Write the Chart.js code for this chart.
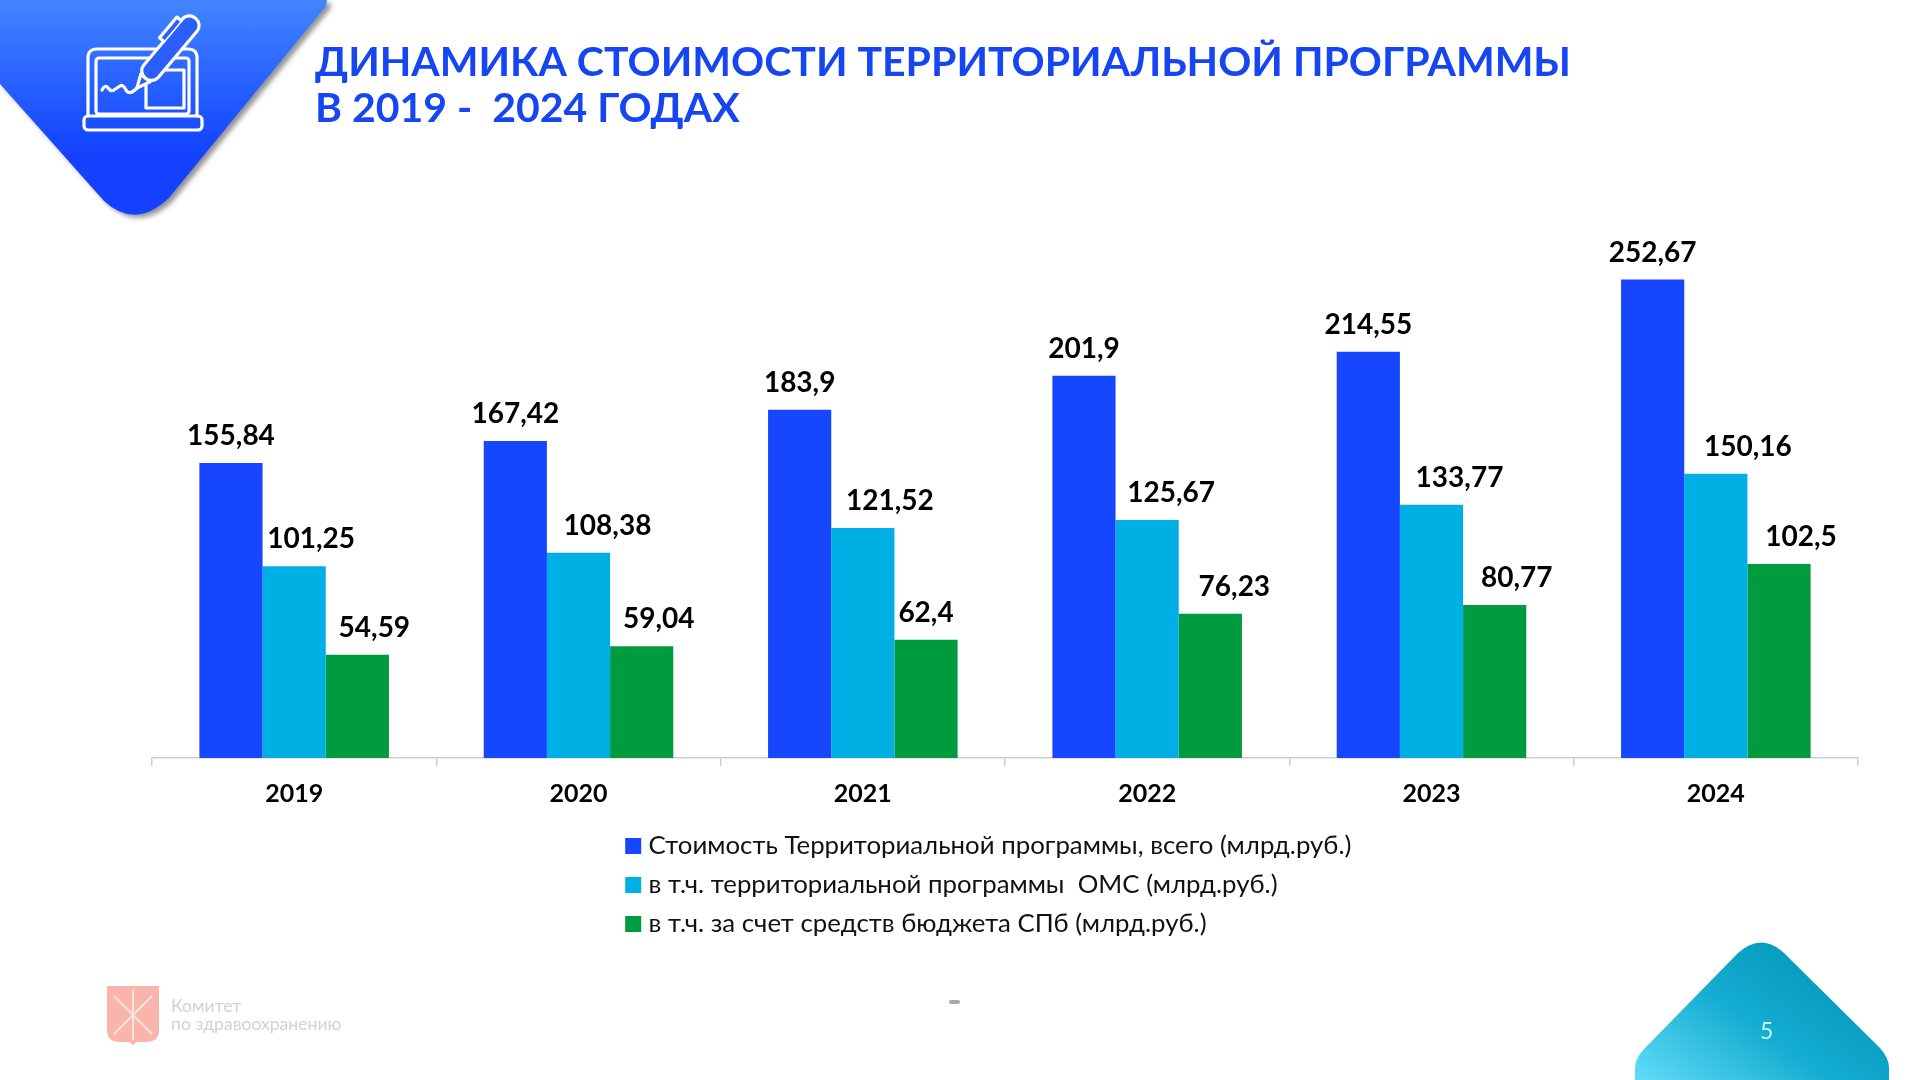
<!DOCTYPE html>
<html lang="ru">
<head>
<meta charset="utf-8">
<title>Динамика стоимости территориальной программы</title>
<script src="https://cdn.jsdelivr.net/npm/chart.js@4/dist/chart.umd.min.js"></script>
<style>
html,body{margin:0;padding:0;background:#fff;width:1920px;height:1080px;overflow:hidden}
#deco{position:absolute;left:0;top:0}
#chart{position:absolute;left:0;top:0}
#title{position:absolute;left:315px;top:38px;font:700 41px/46px Lato,"Open Sans",sans-serif;color:#1546f2;white-space:pre}
.lg{position:absolute;left:171px;font:400 17.6px/18px Lato,"Open Sans",sans-serif;color:#d2d2d2;white-space:pre}
#pg{position:absolute;left:1760px;top:1017px;font:400 23px/26px Lato,"Open Sans",sans-serif;color:#c6f3ff}
</style>
</head>
<body>
<svg id="deco" width="1920" height="1080" viewBox="0 0 1920 1080">
<defs>
<linearGradient id="gB" x1="0" y1="0" x2="0" y2="1"><stop offset="0" stop-color="#4285ff"/><stop offset=".72" stop-color="#1242ff"/><stop offset="1" stop-color="#1540ff"/></linearGradient>
<linearGradient id="gT" x1="0" y1="1" x2="1" y2=".25"><stop offset="0" stop-color="#62dcf8"/><stop offset=".5" stop-color="#14acd0"/><stop offset="1" stop-color="#0094b8"/></linearGradient>
<filter id="sh" x="-10%" y="-10%" width="125%" height="125%"><feDropShadow dx="4" dy="3" stdDeviation="2.5" flood-color="#6e6e6e" flood-opacity=".75"/></filter>
</defs>
<path d="M0,0 L327,0 L326,6 L169,198 Q135,230 104,201 L0,84 Z" fill="url(#gB)" filter="url(#sh)"/>
<g fill="none" stroke="#fff" stroke-width="3.2" stroke-linejoin="round" stroke-linecap="round">
<path d="M88,116 V58 Q88,49 97,49 H188 Q197,49 197,58 V116"/>
<rect x="96" y="58" width="93" height="56" rx="3"/>
<rect x="84" y="116" width="118" height="14" rx="4"/>
<rect x="146" y="70" width="38" height="38"/>
<path d="M102,90 Q105,84 108,88 T114,90 T120,86 T126,90 T137,88"/>
<g transform="translate(137,88) rotate(-50)" fill="#2a5eff">
<path d="M0,0 L13,-6 L13,6 Z"/>
<rect x="13" y="-9.5" width="78" height="19" rx="9"/>
<path d="M53,-9.5 V-15 H80 V-9.5" />
</g>
</g>
<path d="M1635,1080 V1068 Q1635,1058 1645,1048 L1738,953 Q1761,932 1784,953 L1880,1048 Q1889,1058 1889,1068 V1080 Z" fill="url(#gT)"/>
<path d="M107,986 H159 V1030 Q159,1042 146,1042 H137 L133,1045 L129,1042 H120 Q107,1042 107,1030 Z" fill="#f9b4ac"/>
<g stroke="#fde2de" stroke-width="2" fill="none"><path d="M114,996 L152,1034 M152,996 L114,1034 M133,990 V1040"/></g>
<rect x="949" y="1000" width="11" height="4" rx="2" fill="#aaa"/>
</svg>
<canvas id="chart" width="1920" height="1080"></canvas>
<div id="title">ДИНАМИКА СТОИМОСТИ ТЕРРИТОРИАЛЬНОЙ ПРОГРАММЫ
В 2019 -  2024 ГОДАХ</div>
<div class="lg" style="top:997px">Комитет</div>
<div class="lg" style="top:1015px">по здравоохранению</div>
<div id="pg">5</div>
<script>
const categories = ["2019","2020","2021","2022","2023","2024"];
const totalValues = [155.84,167.42,183.9,201.9,214.55,252.67];
const omsValues = [101.25,108.38,121.52,125.67,133.77,150.16];
const budgetValues = [54.59,59.04,62.4,76.23,80.77,102.5];
const seriesNames = [
  "Стоимость Территориальной программы, всего (млрд.руб.)",
  "в т.ч. территориальной программы  ОМС (млрд.руб.)",
  "в т.ч. за счет средств бюджета СПб (млрд.руб.)"
];
const seriesColors = ["#1746ff","#00b0e4","#009a3f"];
const labelShiftX = [[0,0,0,0,0,0],[17,29,27,24,28,32],[17,17,0,24,22,22]];

const valueLabels = {
  id:'valueLabels',
  afterDatasetsDraw(chart){
    const ctx = chart.ctx;
    ctx.save();
    ctx.font = '700 28px Lato, "Open Sans", sans-serif';
    ctx.fillStyle = '#000';
    ctx.textAlign = 'center';
    ctx.textBaseline = 'middle';
    chart.data.datasets.forEach((ds,i)=>{
      chart.getDatasetMeta(i).data.forEach((bar,j)=>{
        ctx.fillText(String(ds.data[j]).replace('.',','), bar.x + labelShiftX[i][j], bar.y - 27);
      });
    });
    ctx.restore();
  }
};
const placeLegend = {
  id:'placeLegend',
  afterLayout(chart){
    const l = chart.legend;
    l.maxWidth = 760;
    l.fit();
    const h = l.height;
    l.left = 617.5; l.right = 617.5 + l.width; l.top = 820; l.bottom = 820 + h;
  }
};
new Chart(document.getElementById('chart'),{
  type:'bar',
  plugins:[valueLabels,placeLegend],
  data:{labels:categories,datasets:[
    {label:seriesNames[0],data:totalValues,backgroundColor:seriesColors[0]},
    {label:seriesNames[1],data:omsValues,backgroundColor:seriesColors[1]},
    {label:seriesNames[2],data:budgetValues,backgroundColor:seriesColors[2]}
  ]},
  options:{
    responsive:false,animation:false,devicePixelRatio:1,
    layout:{padding:{left:152,right:62,top:190,bottom:170}},
    datasets:{bar:{categoryPercentage:2/3,barPercentage:1}},
    scales:{
      x:{
        grid:{drawOnChartArea:false,drawTicks:true,tickLength:8,color:'#cfcfcf',lineWidth:1.5},
        border:{color:'#cfcfcf',width:1.5},
        ticks:{color:'#000',padding:13,font:{family:'Lato, "Open Sans", sans-serif',weight:'700',size:25},maxRotation:0}
      },
      y:{display:false,min:0,max:300}
    },
    plugins:{
      tooltip:{enabled:false},
      legend:{
        position:'bottom',align:'start',
        labels:{
          color:'#111',boxWidth:5,boxHeight:5,padding:13.2,
          font:{family:'Lato, "Open Sans", sans-serif',size:25.8},
          generateLabels(chart){
            return Chart.defaults.plugins.legend.labels.generateLabels(chart).map(it=>({...it,strokeStyle:it.fillStyle,lineWidth:11}));
          }
        }
      }
    }
  }
});
</script>
</body>
</html>
